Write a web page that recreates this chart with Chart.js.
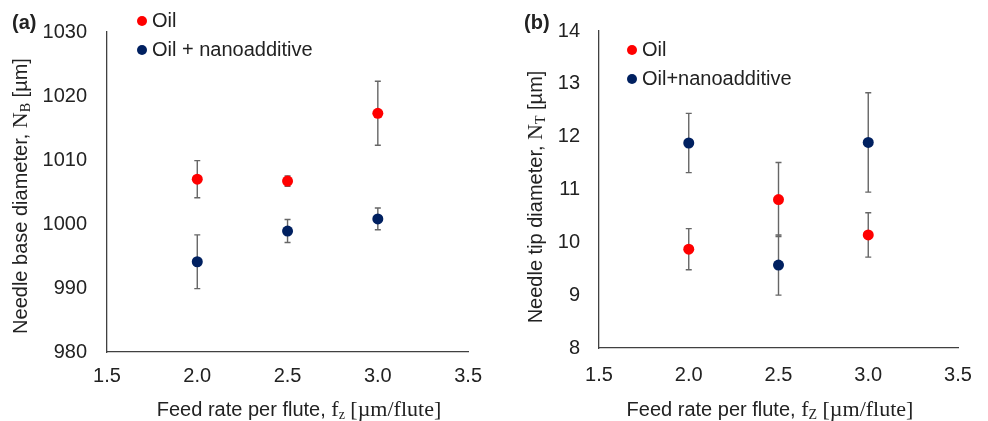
<!DOCTYPE html>
<html>
<head>
<meta charset="utf-8">
<script src="https://cdn.jsdelivr.net/npm/chart.js@4.4.1/dist/chart.umd.min.js"></script>
<style>
  html, body { margin: 0; padding: 0; background: #fff; }
  #wrap { position: relative; width: 988px; height: 421px; }
  .panel { position: absolute; top: 0; width: 494px; height: 421px; }
  #panelA { left: 0; }
  #panelB { left: 494px; }
</style>
</head>
<body>
<div id="wrap">
  <div class="panel" id="panelA"><canvas id="chartA"></canvas></div>
  <div class="panel" id="panelB"><canvas id="chartB"></canvas></div>
</div>
<script>
// feed rate per flute, µm/flute
const feedRates = [2.0, 2.5, 3.0];

// (a) needle base diameter N_B, µm
const baseOil = [1007.0, 1006.7, 1017.3];
const baseOilErr = [2.9, 0.8, 5.0];
const baseNano = [994.1, 998.9, 1000.8];
const baseNanoErr = [4.2, 1.8, 1.7];

// (b) needle tip diameter N_T, µm
const tipOil = [9.87, 10.81, 10.14];
const tipOilErr = [0.39, 0.70, 0.42];
const tipNano = [11.88, 9.57, 11.89];
const tipNanoErr = [0.56, 0.57, 0.94];

const xTicks = [1.5, 2.0, 2.5, 3.0, 3.5];
const baseTicks = [980, 990, 1000, 1010, 1020, 1030];
const tipTicks = [8, 9, 10, 11, 12, 13, 14];

const RED = '#FF0000';
const NAVY = '#002060';
const TEXT = '#222222';
const AXIS = '#404040';
const SANS_FAMILY = '"Liberation Sans", Arial, sans-serif';
const SANS = '20px ' + SANS_FAMILY;
const SERIF = '22px "Liberation Serif", "Times New Roman", serif';
const SERIF_SUB = '14px "Liberation Serif", "Times New Roman", serif';

const points = (xs, ys) => xs.map((x, i) => ({ x, y: ys[i] }));

// draws a run of differently styled text pieces centred on (x, y)
function drawRich(ctx, parts, x, y) {
  let total = 0;
  parts.forEach(p => { ctx.font = p.font; p.w = ctx.measureText(p.text).width; total += p.w; });
  let cx = x - total / 2;
  ctx.textAlign = 'left';
  ctx.textBaseline = 'middle';
  parts.forEach(p => {
    ctx.font = p.font;
    ctx.fillText(p.text, cx, y + (p.dy || 0));
    cx += p.w;
  });
}

// vertical error bars with small caps, under the markers
const errorBars = {
  id: 'errorBars',
  beforeDatasetsDraw(chart) {
    const { ctx, scales: { x, y } } = chart;
    ctx.save();
    ctx.strokeStyle = '#666666';
    ctx.lineWidth = 1.4;
    chart.data.datasets.forEach(ds => {
      if (!ds.errors) return;
      ds.data.forEach((pt, i) => {
        const px = x.getPixelForValue(pt.x);
        const top = y.getPixelForValue(pt.y + ds.errors[i]);
        const bot = y.getPixelForValue(pt.y - ds.errors[i]);
        ctx.beginPath();
        ctx.moveTo(px, top); ctx.lineTo(px, bot);
        ctx.moveTo(px - 3, top); ctx.lineTo(px + 3, top);
        ctx.moveTo(px - 3, bot); ctx.lineTo(px + 3, bot);
        ctx.stroke();
      });
    });
    ctx.restore();
  }
};

// panel letter, axis titles with subscripts, and the legend
const decor = {
  id: 'decor',
  afterDraw(chart, args, opts) {
    const { ctx } = chart;
    ctx.save();
    ctx.fillStyle = TEXT;
    ctx.font = 'bold 20px ' + SANS_FAMILY;
    ctx.textAlign = 'left';
    ctx.textBaseline = 'middle';
    ctx.fillText(opts.tag, opts.tagPos[0], opts.tagPos[1]);

    drawRich(ctx, opts.xTitle, opts.xTitlePos[0], opts.xTitlePos[1]);

    ctx.save();
    ctx.translate(opts.yTitlePos[0], opts.yTitlePos[1]);
    ctx.rotate(-Math.PI / 2);
    drawRich(ctx, opts.yTitle, 0, 0);
    ctx.restore();

    const [lx, ly] = opts.legendPos;
    chart.data.datasets.forEach((ds, i) => {
      const yy = ly + i * opts.legendGap;
      ctx.fillStyle = ds.backgroundColor;
      ctx.beginPath();
      ctx.arc(lx, yy, 5, 0, Math.PI * 2);
      ctx.fill();
      ctx.fillStyle = TEXT;
      ctx.font = SANS;
      ctx.textAlign = 'left';
      ctx.textBaseline = 'middle';
      ctx.fillText(ds.label, lx + 10, yy);
    });
    ctx.restore();
  }
};

function makeChart(id, cfg) {
  return new Chart(document.getElementById(id), {
    type: 'scatter',
    data: {
      datasets: [
        { label: 'Oil', data: points(feedRates, cfg.oil), errors: cfg.oilErr,
          backgroundColor: RED, borderColor: RED, pointRadius: 5.5, pointBorderWidth: 0 },
        { label: cfg.nanoLabel, data: points(feedRates, cfg.nano), errors: cfg.nanoErr,
          backgroundColor: NAVY, borderColor: NAVY, pointRadius: 5.5, pointBorderWidth: 0 }
      ]
    },
    plugins: [errorBars, decor],
    options: {
      responsive: true,
      maintainAspectRatio: false,
      animation: false,
      events: [],
      layout: { padding: { left: 0, right: cfg.padRight, top: cfg.padTop, bottom: 0 } },
      plugins: {
        legend: { display: false },
        tooltip: { enabled: false },
        decor: cfg.decor
      },
      scales: {
        x: {
          type: 'linear',
          min: xTicks[0],
          max: xTicks[xTicks.length - 1],
          afterBuildTicks: s => { s.ticks = xTicks.map(v => ({ value: v })); },
          afterFit: s => { s.height = cfg.xHeight; },
          grid: { display: false, drawTicks: false },
          border: { color: AXIS, width: 1.3 },
          ticks: {
            color: TEXT,
            padding: cfg.xPad,
            font: { size: 20, family: SANS_FAMILY },
            callback: v => Number(v).toFixed(1)
          }
        },
        y: {
          min: cfg.yTicks[0],
          max: cfg.yTicks[cfg.yTicks.length - 1],
          afterBuildTicks: s => { s.ticks = cfg.yTicks.map(v => ({ value: v })); },
          afterFit: s => { s.width = cfg.yWidth; },
          grid: { display: false, drawTicks: false },
          border: { color: AXIS, width: 1.3 },
          ticks: {
            color: TEXT,
            padding: cfg.yPad,
            font: { size: 20, family: SANS_FAMILY },
            callback: v => String(v)
          }
        }
      }
    }
  });
}

makeChart('chartA', {
  oil: baseOil, oilErr: baseOilErr, nano: baseNano, nanoErr: baseNanoErr,
  nanoLabel: 'Oil + nanoadditive',
  yTicks: baseTicks,
  padTop: 23, padRight: 17, xHeight: 69, yWidth: 107, xPad: 12, yPad: 20,
  decor: {
    tag: '(a)', tagPos: [12, 23],
    legendPos: [142, 21], legendGap: 29,
    xTitlePos: [299, 410],
    xTitle: [
      { text: 'Feed rate per flute, ', font: SANS },
      { text: 'f', font: SERIF },
      { text: 'z', font: SERIF_SUB, dy: 5 },
      { text: ' [µm/flute]', font: SERIF }
    ],
    yTitlePos: [21, 196],
    yTitle: [
      { text: 'Needle base diameter, ', font: SANS },
      { text: 'N', font: SERIF },
      { text: 'B', font: SERIF_SUB, dy: 5 },
      { text: ' [µm]', font: SANS }
    ]
  }
});

makeChart('chartB', {
  oil: tipOil, oilErr: tipOilErr, nano: tipNano, nanoErr: tipNanoErr,
  nanoLabel: 'Oil+nanoadditive',
  yTicks: tipTicks,
  padTop: 30, padRight: 30, xHeight: 73, yWidth: 105, xPad: 15, yPad: 19,
  decor: {
    tag: '(b)', tagPos: [30, 23],
    legendPos: [138, 50], legendGap: 29,
    xTitlePos: [276, 410],
    xTitle: [
      { text: 'Feed rate per flute, ', font: SANS },
      { text: 'f', font: SERIF },
      { text: 'Z', font: SERIF_SUB, dy: 5 },
      { text: ' [µm/flute]', font: SERIF }
    ],
    yTitlePos: [42, 197],
    yTitle: [
      { text: 'Needle tip diameter, ', font: SANS },
      { text: 'N', font: SERIF },
      { text: 'T', font: SERIF_SUB, dy: 5 },
      { text: ' [µm]', font: SANS }
    ]
  }
});
</script>
</body>
</html>
